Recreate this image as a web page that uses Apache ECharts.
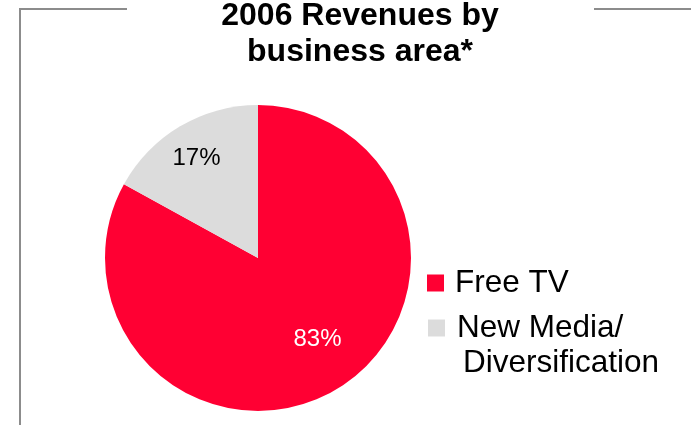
<!DOCTYPE html>
<html>
<head>
<meta charset="utf-8">
<script src="https://cdn.jsdelivr.net/npm/echarts@6/dist/echarts.min.js"></script>
<style>
  html, body { margin: 0; padding: 0; background: #ffffff; }
  #chart { width: 691px; height: 425px; }
</style>
</head>
<body>
<div id="chart"></div>
<script>
// Revenue split by business area, 2006 (percent of total)
var categories = ['Free TV', 'New Media/\nDiversification'];
var shares = [83, 17];
var sliceColors = ['#ff0033', '#dcdcdc'];
var labelColors = ['#ffffff', '#000000'];
// nudges that move each percentage label away from the mid-radius spot
var labelNudges = [[19, 13], [-21, -31]];

var chart = echarts.init(document.getElementById('chart'), null, { renderer: 'canvas' });

var pieData = categories.map(function (name, i) {
  return {
    name: name,
    value: shares[i],
    itemStyle: { color: sliceColors[i] },
    label: { color: labelColors[i], offset: labelNudges[i] }
  };
});

var font = 'Liberation Sans, Arial, Helvetica, sans-serif';
var legendText = { fontFamily: font, fontSize: 31.5, lineHeight: 35, color: '#000000' };

// legend entries: the wrapped entry keeps its first line level with the swatch
function legendLabel(name) {
  var lines = name.split('\n');
  if (lines.length === 1) {
    return '{a|' + lines[0] + '}';
  }
  return '{a|}\n{b|' + lines[0] + '}\n{c|' + lines[1] + '}';
}

chart.setOption({
  animation: false,
  backgroundColor: '#ffffff',
  title: {
    text: '2006 Revenues by\nbusiness area*',
    left: 360,
    textAlign: 'center',
    top: -2,
    padding: 0,
    textStyle: {
      fontFamily: font,
      fontWeight: 'bold',
      fontSize: 32,
      lineHeight: 36,
      color: '#000000'
    }
  },
  legend: [
    {
      data: [categories[0]],
      orient: 'vertical',
      left: 427,
      top: 267,
      padding: 0,
      itemWidth: 17,
      itemHeight: 17,
      itemGap: 0,
      icon: 'rect',
      formatter: legendLabel,
      textStyle: {
        fontFamily: font, fontSize: 31.5, color: '#000000',
        rich: { a: Object.assign({ padding: [0, 0, 0, 6] }, legendText) }
      }
    },
    {
      data: [categories[1]],
      orient: 'vertical',
      left: 428,
      top: 277,
      padding: 0,
      itemWidth: 17,
      itemHeight: 17,
      itemGap: 0,
      icon: 'rect',
      formatter: legendLabel,
      textStyle: {
        fontFamily: font, fontSize: 31.5, color: '#000000',
        rich: {
          a: Object.assign({}, legendText),
          b: Object.assign({ padding: [0, 0, 0, 7] }, legendText),
          c: Object.assign({ padding: [0, 0, 0, 13] }, legendText)
        }
      }
    }
  ],
  graphic: [
    {
      type: 'polyline',
      shape: { points: [[127, 9], [20, 9], [20, 425]] },
      style: { stroke: '#8c8c8c', lineWidth: 2, fill: null }
    },
    {
      type: 'line',
      shape: { x1: 594, y1: 9, x2: 691, y2: 9 },
      style: { stroke: '#8c8c8c', lineWidth: 2 }
    }
  ],
  series: [
    {
      type: 'pie',
      center: [258, 258],
      radius: 153,
      startAngle: 90,
      clockwise: true,
      silent: true,
      label: {
        show: true,
        position: 'inside',
        formatter: '{c}%',
        fontFamily: font,
        fontSize: 24
      },
      labelLine: { show: false },
      itemStyle: { borderWidth: 0 },
      data: pieData
    }
  ]
});
</script>
</body>
</html>
